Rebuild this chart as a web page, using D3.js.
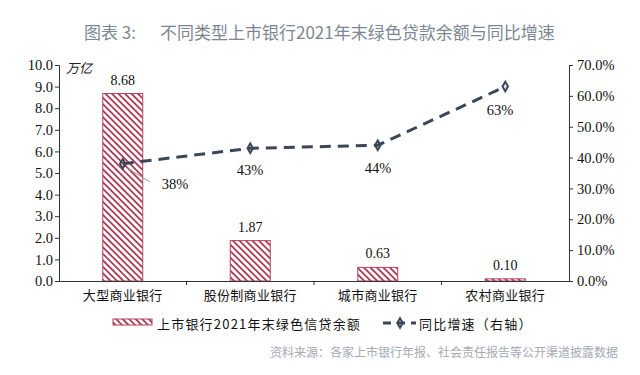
<!DOCTYPE html>
<html>
<head>
<meta charset="utf-8">
<script src="https://cdn.jsdelivr.net/npm/d3@7"></script>
<style>
body { margin: 0; background: #ffffff; }
</style>
</head>
<body>
<script>
var categories = ["大型商业银行", "股份制商业银行", "城市商业银行", "农村商业银行"];
var balances = [8.68, 1.87, 0.63, 0.10];
var growth = [38, 43, 44, 63];
var growthLabels = ["38%", "43%", "44%", "63%"];
var leftTicks = [0, 1, 2, 3, 4, 5, 6, 7, 8, 9, 10];
var rightTicks = [0, 10, 20, 30, 40, 50, 60, 70];

var cjk = "'Noto Sans CJK SC', sans-serif";
var serif = "'Liberation Serif', 'Times New Roman', serif";

var svg = d3.select("body")
	.append("svg")
	.attr("width", 640)
	.attr("height", 375);

var defs = svg.append("defs");
var pat = defs.append("pattern")
	.attr("id", "hatch")
	.attr("patternUnits", "userSpaceOnUse")
	.attr("width", 4.6)
	.attr("height", 4.6)
	.attr("patternTransform", "rotate(45)");
pat.append("rect")
	.attr("width", 4.6)
	.attr("height", 4.6)
	.attr("fill", "#ffffff");
pat.append("rect")
	.attr("width", 4.6)
	.attr("height", 1.8)
	.attr("fill", "#ad3a52");

var plotL = 59, plotR = 569, plotT = 65, plotB = 281;

var x = d3.scaleBand()
	.domain(categories)
	.range([plotL, plotR]);
var y = d3.scaleLinear()
	.domain([0, 10])
	.range([plotB, plotT]);
var y2 = d3.scaleLinear()
	.domain([0, 70])
	.range([plotB, plotT]);

// title
svg.append("text")
	.attr("x", 84)
	.attr("y", 39)
	.attr("font-family", cjk)
	.attr("font-size", 17)
	.attr("fill", "#7d8793")
	.text("图表 3:");
svg.append("text")
	.attr("x", 160)
	.attr("y", 39)
	.attr("font-family", cjk)
	.attr("font-size", 17)
	.attr("fill", "#7d8793")
	.text("不同类型上市银行2021年末绿色贷款余额与同比增速");

// bars
var barW = 40;
svg.selectAll("rect.bar")
	.data(balances)
	.enter()
	.append("rect")
	.attr("class", "bar")
	.attr("x", function (d, i) { return x(categories[i]) + x.bandwidth() / 2 - barW / 2; })
	.attr("y", function (d) { return y(d); })
	.attr("width", barW)
	.attr("height", function (d) { return plotB - y(d); })
	.attr("fill", "url(#hatch)")
	.attr("stroke", "#b4455c")
	.attr("stroke-width", 1);

svg.selectAll("text.barlabel")
	.data(balances)
	.enter()
	.append("text")
	.attr("class", "barlabel")
	.attr("x", function (d, i) { return x(categories[i]) + x.bandwidth() / 2; })
	.attr("y", function (d) { return y(d) - 9; })
	.attr("text-anchor", "middle")
	.attr("font-family", serif)
	.attr("font-size", 14)
	.attr("fill", "#111")
	.text(function (d) { return d.toFixed(2); });

// axes
var leftAxis = svg.append("g")
	.attr("transform", "translate(" + plotL + ",0)")
	.call(d3.axisLeft(y).tickValues(leftTicks).tickSizeOuter(0).tickSize(4).tickFormat(d3.format(".1f")));
var rightAxis = svg.append("g")
	.attr("transform", "translate(" + plotR + ",0)")
	.call(d3.axisRight(y2).tickValues(rightTicks).tickSizeOuter(0).tickSize(4).tickFormat(function (d) { return d.toFixed(1) + "%"; }));
var bottomAxis = svg.append("g")
	.attr("transform", "translate(0," + plotB + ")")
	.call(d3.axisBottom(x).tickSize(0).tickSizeOuter(0));

[leftAxis, rightAxis].forEach(function (a) {
	a.selectAll("path, line").attr("stroke", "#333");
	a.selectAll("text")
		.attr("font-family", serif)
		.attr("font-size", 14.5)
		.attr("fill", "#111");
});
leftAxis.selectAll("text").attr("x", -6);
rightAxis.selectAll("text").attr("x", 8);

bottomAxis.select("path").attr("stroke", "#333");
bottomAxis.selectAll("text")
	.attr("font-family", cjk)
	.attr("font-size", 13)
	.attr("letter-spacing", 0.3)
	.attr("fill", "#111")
	.attr("dy", "1.25em");
// category separators
bottomAxis.selectAll("line.sep")
	.data(categories.slice(1))
	.enter()
	.append("line")
	.attr("class", "sep")
	.attr("x1", function (d) { return x(d); })
	.attr("x2", function (d) { return x(d); })
	.attr("y1", 0)
	.attr("y2", 4)
	.attr("stroke", "#333");

svg.append("text")
	.attr("x", 66)
	.attr("y", 73)
	.attr("font-family", cjk)
	.attr("font-size", 13)
	.attr("font-style", "italic")
	.attr("fill", "#222")
	.text("万亿");

// growth line
var line = d3.line()
	.x(function (d, i) { return x(categories[i]) + x.bandwidth() / 2; })
	.y(function (d) { return y2(d); });
svg.append("path")
	.datum(growth)
	.attr("d", line)
	.attr("fill", "none")
	.attr("stroke", "#3b4659")
	.attr("stroke-width", 3)
	.attr("stroke-dasharray", "11,7");

svg.selectAll("path.marker")
	.data(growth)
	.enter()
	.append("path")
	.attr("class", "marker")
	.attr("transform", function (d, i) { return "translate(" + (x(categories[i]) + x.bandwidth() / 2) + "," + y2(d) + ")"; })
	.attr("d", d3.symbol(d3.symbolDiamond, 26))
	.attr("fill", "none")
	.attr("stroke", "#3b4659")
	.attr("stroke-width", 2);

// leader line for first label
svg.append("line")
	.attr("x1", x(categories[0]) + x.bandwidth() / 2 + 4)
	.attr("y1", y2(growth[0]) + 4)
	.attr("x2", 150)
	.attr("y2", 182)
	.attr("stroke", "#999")
	.attr("stroke-width", 1);

var labelPos = [[175, 189], [250, 175], [378, 173], [500, 115]];
svg.selectAll("text.glabel")
	.data(growthLabels)
	.enter()
	.append("text")
	.attr("class", "glabel")
	.attr("x", function (d, i) { return labelPos[i][0]; })
	.attr("y", function (d, i) { return labelPos[i][1]; })
	.attr("text-anchor", "middle")
	.attr("font-family", serif)
	.attr("font-size", 14.5)
	.attr("fill", "#111")
	.text(function (d) { return d; });

// legend
svg.append("rect")
	.attr("x", 113)
	.attr("y", 319)
	.attr("width", 39)
	.attr("height", 6)
	.attr("fill", "url(#hatch)")
	.attr("stroke", "#b4455c");
svg.append("text")
	.attr("x", 157)
	.attr("y", 329)
	.attr("font-family", cjk)
	.attr("font-size", 13)
	.attr("letter-spacing", 1.2)
	.attr("fill", "#111")
	.text("上市银行2021年末绿色信贷余额");
svg.append("line")
	.attr("x1", 383)
	.attr("x2", 416)
	.attr("y1", 323)
	.attr("y2", 323)
	.attr("stroke", "#3b4659")
	.attr("stroke-width", 3)
	.attr("stroke-dasharray", "8,6");
svg.append("path")
	.attr("transform", "translate(400,323)")
	.attr("d", d3.symbol(d3.symbolDiamond, 26))
	.attr("fill", "none")
	.attr("stroke", "#3b4659")
	.attr("stroke-width", 2);
svg.append("text")
	.attr("x", 419)
	.attr("y", 329)
	.attr("font-family", cjk)
	.attr("font-size", 13)
	.attr("letter-spacing", 1.2)
	.attr("fill", "#111")
	.text("同比增速（右轴）");

// source
svg.append("text")
	.attr("x", 618)
	.attr("y", 357)
	.attr("text-anchor", "end")
	.attr("font-family", cjk)
	.attr("font-size", 12)
	.attr("fill", "#a3abb4")
	.text("资料来源：各家上市银行年报、社会责任报告等公开渠道披露数据");
</script>
</body>
</html>
